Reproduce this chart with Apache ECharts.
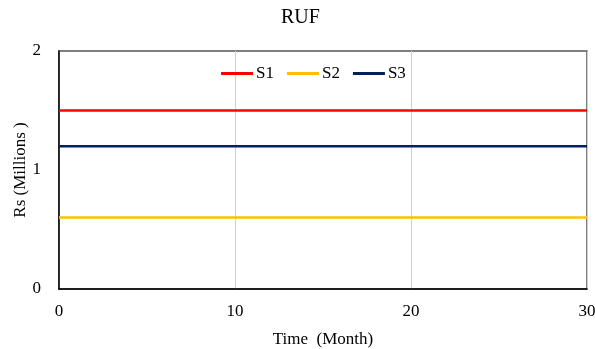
<!DOCTYPE html>
<html>
<head>
<meta charset="utf-8">
<script src="https://cdn.jsdelivr.net/npm/echarts@6/dist/echarts.min.js"></script>
<style>
  html, body { margin: 0; padding: 0; background: #fff; }
  #chart { width: 595px; height: 349px; }
</style>
</head>
<body>
<div id="chart"></div>
<script>
// Time axis (months) and the three flat scenarios, Rs millions
const months = [0, 30];
const s1 = [1.5, 1.5];
const s2 = [0.6, 0.6];
const s3 = [1.2, 1.2];
const seriesNames = ['S1', 'S2', 'S3'];
const xTicks = [0, 10, 20, 30];
const yTicks = [0, 1, 2];

const font = '"Liberation Serif", "Times New Roman", serif';
const colors = ['#FF0000', '#FFC000', '#002060'];
const toPairs = (vals) => months.map((m, i) => [m, vals[i]]);

const chart = echarts.init(document.getElementById('chart'));
chart.setOption({
  animation: false,
  textStyle: { fontFamily: font, color: '#000' },
  title: {
    text: 'RUF', left: 276, top: 3,
    textStyle: { fontFamily: font, fontSize: 20, fontWeight: 'normal', color: '#000' }
  },
  legend: {
    data: seriesNames, top: 60, left: 216,
    itemWidth: 32, itemHeight: 3, itemGap: 13,
    icon: 'rect',
    textStyle: { fontFamily: font, fontSize: 17, color: '#000', padding: [0, 0, 0, -2] }
  },
  grid: { left: 59, right: 8, top: 51, bottom: 60, containLabel: false, outerBoundsMode: 'none' },
  xAxis: {
    type: 'value', min: xTicks[0], max: xTicks[xTicks.length - 1], interval: 10,
    name: 'Time  (Month)', nameLocation: 'middle', nameGap: 42, nameMoveOverlap: false,
    nameTextStyle: { fontFamily: font, fontSize: 17, color: '#000' },
    axisLine: { show: true, lineStyle: { color: '#000', width: 1.5 } },
    axisTick: { show: false },
    axisLabel: { fontFamily: font, fontSize: 17, color: '#000', margin: 14 },
    splitLine: { show: true, lineStyle: { color: '#D0D0D0', width: 1 } }
  },
  yAxis: {
    type: 'value', min: yTicks[0], max: yTicks[yTicks.length - 1], interval: 1,
    name: 'Rs (Millions )', nameLocation: 'middle', nameGap: 30, nameMoveOverlap: false,
    nameTextStyle: { fontFamily: font, fontSize: 17, color: '#000' },
    axisLine: { show: true, lineStyle: { color: '#000', width: 1.5 } },
    axisTick: { show: false },
    axisLabel: { fontFamily: font, fontSize: 17, color: '#000', margin: 18 },
    splitLine: { show: false }
  },
  series: [
    { name: 'S1', data: toPairs(s1) },
    { name: 'S2', data: toPairs(s2) },
    { name: 'S3', data: toPairs(s3) }
  ].map((s, i) => ({
    ...s, type: 'line', showSymbol: false, symbol: 'none',
    lineStyle: { color: colors[i], width: 2.5 }, itemStyle: { color: colors[i] }
  })),
  graphic: [{
    // plot-area frame on top and right
    type: 'rect', z: 0,
    shape: { x: 59, y: 51, width: 528, height: 238 },
    style: { fill: 'none', stroke: '#555', lineWidth: 1.5 }
  }]
});
</script>
</body>
</html>
